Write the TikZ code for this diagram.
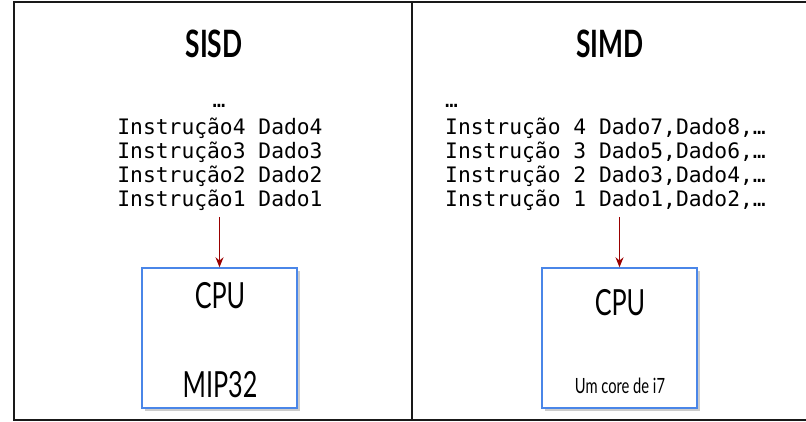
\documentclass[tikz,border=0pt]{standalone}
\usepackage{fontspec}
\setmainfont{Lato}
\setmonofont{DejaVu Sans Mono}
\newfontfamily\condfont[FakeStretch=0.7]{Lato}
\usetikzlibrary{positioning,shadows,arrows.meta}

\definecolor{boxblue}{HTML}{4A86E8}
\definecolor{flowred}{HTML}{990000}

\begin{document}
\begin{tikzpicture}[x=1pt,y=-1pt,
    frame/.style={line width=1.8pt,black!90},
    title/.style={anchor=base,inner sep=0pt,font=\condfont\bfseries\fontsize{37.7}{40}\selectfont},
    code/.style={anchor=base,inner sep=0pt,font=\ttfamily\fontsize{21.3}{24}\selectfont},
    cpubox/.style={draw=boxblue,line width=1.4pt,fill=white,minimum width=155pt,minimum height=140pt,
        drop shadow={shadow xshift=3pt,shadow yshift=-3pt,opacity=0.4}},
    cpulabel/.style={anchor=base,inner sep=0pt,font=\condfont\fontsize{36}{40}\selectfont},
    smalllabel/.style={anchor=base,inner sep=0pt,font=\condfont\fontsize{21}{24}\selectfont},
    flow/.style={draw=flowred,line width=1.2pt,-{Stealth[length=10pt,width=8pt]},shorten <=6pt}]
    \useasboundingbox (0,0) rectangle (806,421);
    % frame
    \draw[frame] (806,2) -- (14,2) -- (14,420) -- (806,420);
    \draw[frame] (412,2) -- (412,420);

    % SISD
    \node[title] (sisd) at (214,57) {SISD};
    \node[code] (sisddots) at (219,107) {…};
    \foreach \i/\y in {4/134.5,3/158.5,2/182.5,1/206.5}
        \node[code] (sisd\i) at (220,\y) {Instrução\i{} Dado\i};
    \node[cpubox] (cpuA) at (219.5,338) {};
    \node[cpulabel] (cpuAname) at (220,308) {CPU};
    \node[cpulabel] (cpuAtype) at (220,397) {MIP32};
    \draw[flow] (cpuA.north |- sisd1.south) -- (cpuA.north);

    % SIMD
    \node[title] (simd) at (610,57) {SIMD};
    \node[code,anchor=base west] (simddots) at (445,107) {…};
    \node[code,anchor=base west] (simd4) at (445,134.5) {Instrução 4 Dado7,Dado8,…};
    \node[code,anchor=base west] (simd3) at (445,158.5) {Instrução 3 Dado5,Dado6,…};
    \node[code,anchor=base west] (simd2) at (445,182.5) {Instrução 2 Dado3,Dado4,…};
    \node[code,anchor=base west] (simd1) at (445,206.5) {Instrução 1 Dado1,Dado2,…};
    \node[cpubox] (cpuB) at (619.5,338) {};
    \node[cpulabel] (cpuBname) at (620,315) {CPU};
    \node[smalllabel] (cpuBtype) at (620,393) {Um core de i7};
    \draw[flow] (cpuB.north |- simd1.south) -- (cpuB.north);
\end{tikzpicture}
\end{document}
